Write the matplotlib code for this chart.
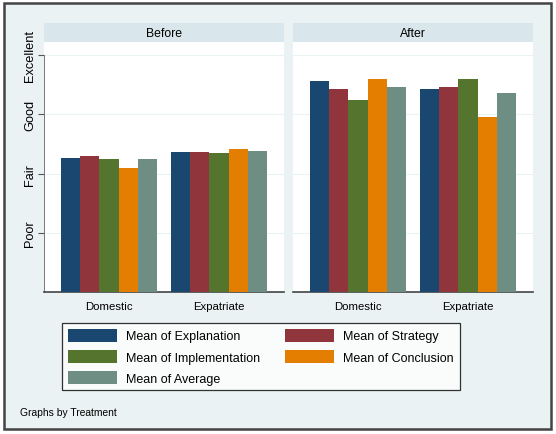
import numpy as np
import matplotlib.pyplot as plt
from matplotlib.patches import Rectangle

plt.rcParams['font.family'] = ['Liberation Sans', 'DejaVu Sans']

# dados (escala 1=Poor ... 4=Excellent)
panels = ["Before", "After"]
groups = ["Domestic", "Expatriate"]
series = ["Mean of Explanation", "Mean of Strategy", "Mean of Implementation",
          "Mean of Conclusion", "Mean of Average"]
before_domestic = [2.27, 2.30, 2.25, 2.10, 2.24]
before_expat = [2.37, 2.37, 2.35, 2.42, 2.38]
after_domestic = [3.56, 3.43, 3.25, 3.60, 3.46]
after_expat = [3.43, 3.46, 3.60, 2.96, 3.36]
ytick_vals = [1, 2, 3, 4]
ytick_labels = ["Poor", "Fair", "Good", "Excellent"]

cores = ["#1a476f", "#90353b", "#55752f", "#e37e00", "#6e8e84"]
fundo = "#eaf2f3"
faixa = "#d9e6eb"

W, H = 556, 435
fig = plt.figure(figsize=(W / 100, H / 100), dpi=100, facecolor="white")

# moldura externa
fig.patches.append(Rectangle((4 / W, 5 / H), 547 / W, 426 / H, transform=fig.transFigure,
                             facecolor=fundo, edgecolor="#444444", linewidth=1.8, zorder=-10))

dados = {"Before": [before_domestic, before_expat], "After": [after_domestic, after_expat]}
lefts = [44, 293]
largura = 240
bw = 0.176
x = np.arange(len(groups))

handles = []
for p, left in zip(panels, lefts):
    ax = fig.add_axes([left / W, (H - 293.3) / H, largura / W, 250 / H])
    ax.set_facecolor("white")
    vals = np.array(dados[p])  # grupos x series
    for i in range(len(series)):
        off = (i - 2) * bw
        b = ax.bar(x + off, vals[:, i], width=bw, color=cores[i], label=series[i], zorder=3)
        if p == "Before":
            handles.append(b)
    ax.set_xlim(-0.59, 1.59)
    ax.set_ylim(0, 4.215)
    ax.set_xticks(x)
    ax.set_xticklabels(groups, fontsize=8.2)
    ax.tick_params(axis="x", length=0, pad=6.5)
    for y in ytick_vals:
        ax.axhline(y, color=fundo, linewidth=0.8, zorder=1)
    for s in ["top", "right"]:
        ax.spines[s].set_visible(False)
    ax.spines["bottom"].set_color("#444444")
    ax.spines["bottom"].set_linewidth(1.2)
    if p == "Before":
        ax.set_yticks(ytick_vals)
        ax.set_yticklabels(ytick_labels, rotation=90, va="center", fontsize=9.2)
        ax.tick_params(axis="y", length=4, color="#555555", pad=1.5)
        ax.spines["left"].set_bounds(0, 4)
        ax.spines["left"].set_color("#777777")
        ax.spines["left"].set_linewidth(0.7)
    else:
        ax.set_yticks([])
        ax.spines["left"].set_visible(False)

    # faixa do titulo do painel
    st = fig.add_axes([left / W, (H - 43.3) / H, largura / W, 19.3 / H])
    st.set_facecolor(faixa)
    st.set_xticks([])
    st.set_yticks([])
    for s in st.spines.values():
        s.set_visible(False)
    st.text(0.5, 0.5, p, ha="center", va="center", fontsize=8.8, transform=st.transAxes)

# ordem da legenda: colunas preenchidas primeiro
ordem = [0, 2, 4, 1, 3]
leg = fig.legend([handles[i] for i in ordem], [series[i] for i in ordem],
                 loc="center", bbox_to_anchor=(261 / W, (H - 357.7) / H), ncol=2,
                 fontsize=9, frameon=True, fancybox=False, edgecolor="black",
                 handlelength=3.9, handleheight=1.2, handletextpad=0.75,
                 columnspacing=2.0, labelspacing=0.6, borderpad=0.45)
leg.get_frame().set_linewidth(0.9)

fig.text(20 / W, (H - 412.7) / H, "Graphs by Treatment", fontsize=7.4, va="center", ha="left")

fig.savefig("out.png", dpi=100, facecolor="white")
